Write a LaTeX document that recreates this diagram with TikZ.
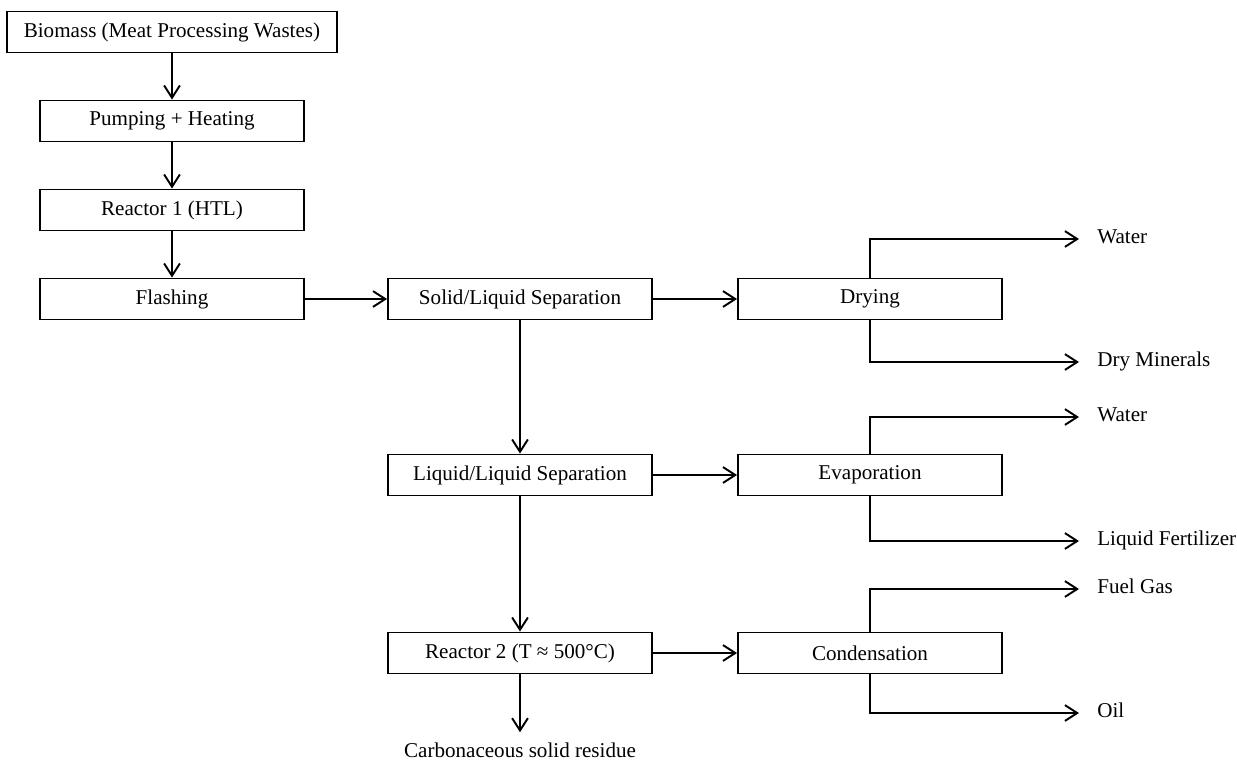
\documentclass[tikz,border=0pt]{standalone}
\usepackage{fontspec}
\setmainfont{Liberation Serif}
\usetikzlibrary{arrows.meta}

\begin{document}
\begin{tikzpicture}[x=0.02cm, y=-0.02cm,
                    block/.style={draw, line width=1.1pt, minimum width=5.28cm, minimum height=0.82cm,
                                  inner sep=0pt, font=\fontsize{12}{14}\selectfont},
                    flow/.style={line width=1.1pt, -{Straight Barb[length=7pt, width=9pt]}},
                    product/.style={anchor=mid west, inner xsep=0.36cm, inner ysep=0pt,
                                    font=\fontsize{12}{14}\selectfont}
                    ]
    \useasboundingbox (0,0) rectangle (1237,764);
    \node[block, minimum width=6.6cm] (biomass) at (172,32) {Biomass (Meat Processing Wastes)};
    \node[block] (pump)  at (172,121) {Pumping + Heating};
    \node[block] (reac1) at (172,210) {Reactor 1 (HTL)};
    \node[block] (flash) at (172,299) {Flashing};
    \node[block] (sls)   at (520,299) {Solid/Liquid Separation};
    \node[block] (dry)   at (870,299) {Drying};
    \node[block] (lls)   at (520,475) {Liquid/Liquid Separation};
    \node[block] (evap)  at (870,475) {Evaporation};
    \node[block] (reac2) at (520,653) {Reactor 2 (T ≈ 500°C)};
    \node[block] (cond)  at (870,653) {Condensation};

    \node[product] (water1) at (1079,239) {Water};
    \node[product] (mineral) at (1079,362) {Dry Minerals};
    \node[product] (water2) at (1079,417) {Water};
    \node[product] (fert)   at (1079,541) {Liquid Fertilizer};
    \node[product] (gas)    at (1079,589) {Fuel Gas};
    \node[product] (oil)    at (1079,713) {Oil};
    \node[inner sep=0.2cm, font=\fontsize{12}{14}\selectfont] (carb) at (520,750) {Carbonaceous solid residue};

    \draw[flow] (biomass) -- (pump);
    \draw[flow] (pump) -- (reac1);
    \draw[flow] (reac1) -- (flash);
    \draw[flow] (flash) -- (sls);
    \draw[flow] (sls) -- (dry);
    \draw[flow] (sls) -- (lls);
    \draw[flow] (lls) -- (evap);
    \draw[flow] (lls) -- (reac2);
    \draw[flow] (reac2) -- (cond);
    \draw[flow] (reac2) -- (carb);

    \draw[flow] (dry.north) |- (water1.mid west);
    \draw[flow] (dry.south) |- (mineral.mid west);
    \draw[flow] (evap.north) |- (water2.mid west);
    \draw[flow] (evap.south) |- (fert.mid west);
    \draw[flow] (cond.north) |- (gas.mid west);
    \draw[flow] (cond.south) |- (oil.mid west);
\end{tikzpicture}
\end{document}
